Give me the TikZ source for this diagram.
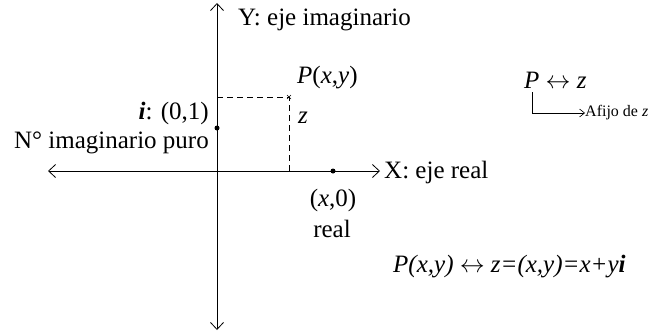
\documentclass[tikz,border=0pt]{standalone}
\usepackage{fontspec}
\setmainfont{Liberation Serif}
\usetikzlibrary{arrows.meta,calc}
\tikzset{
  axis/.style={line width=0.8pt, {Straight Barb[length=7pt,width=13pt]}-{Straight Barb[length=7pt,width=13pt]}},
  guide/.style={line width=0.7pt, dash pattern=on 6pt off 4pt},
  lbl/.style={font=\fontsize{25}{28}\selectfont, inner sep=0pt},
  small/.style={font=\fontsize{16}{18}\selectfont, inner sep=0pt},
  dot/.style={circle, fill=black, inner sep=0pt, minimum size=5pt}
}
\begin{document}
\begin{tikzpicture}[x=1pt,y=-1pt]
\useasboundingbox (0,0) rectangle (655,333);
% axes
\coordinate (ytop) at (217,3);
\coordinate (ybot) at (217,330);
\coordinate (xl) at (48,171);
\coordinate (xr) at (380,171);
\draw[axis] (ybot) -- (ytop);
\draw[axis] (xl) -- (xr);
% points
\coordinate (P) at (289,97);
\coordinate (Px) at (289,171);
\coordinate (Py) at (217,97);
\draw[guide] (Py) -- (P) -- (Px);
\draw[line width=0.6pt] ($(P)+(-2,-2)$) -- ($(P)+(2,2)$) ($(P)+(-2,2)$) -- ($(P)+(2,-2)$);
\node[dot] (i) at (217,128) {};
\node[dot] (x0) at (333,171) {};
% labels
\node[lbl, anchor=west] (ylab) at (238,20) {Y: eje imaginario};
\node[lbl, anchor=west] (xlab) at (384,172) {X: eje real};
\node[lbl, anchor=west] (plab) at (297,78) {\textit{P}(\textit{x},\textit{y})};
\node[lbl, anchor=west] (zlab) at (298,118) {\textit{z}};
\node[lbl, anchor=east] (ilab) at (209,113) {\textbf{\textit{i}}: (0,1)};
\node[lbl, anchor=east] (plab2) at (209,143) {N° imaginario puro};
\node[lbl] (x0lab) at (333,200) {(\textit{x},0)};
\node[lbl] (real) at (332,229) {real};
\node[lbl, anchor=west] (pz) at (524,80) {\textit{P} $\leftrightarrow$ \textit{z}};
\node[small, anchor=west] (afijo) at (585,113) {Afijo de \textit{z}};
\draw[line width=0.6pt, -{Straight Barb[length=5pt,width=8pt]}] (532,92) |- (afijo.west);
\node[lbl, anchor=west] (formula) at (393,267) {\textit{P(x,y)} $\leftrightarrow$ \textit{z=(x,y)=x+y\textbf{i}}};
\end{tikzpicture}
\end{document}
